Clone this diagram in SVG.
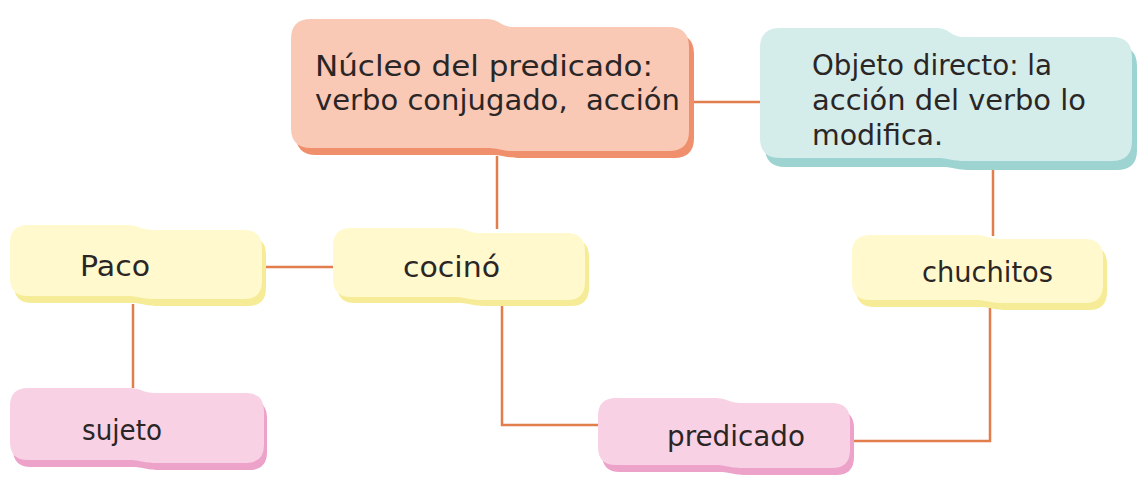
<svg xmlns="http://www.w3.org/2000/svg" width="1139" height="477" viewBox="0 0 1139 477">
<style>
  .lbl { font-family: "DejaVu Sans", "Liberation Sans", sans-serif; font-size: 29px; fill: #2b2626; }
  .conn { fill: none; stroke: #e27d4c; stroke-width: 2.5; }
  .salmon { fill: #f9c9b6; } .salmon-s { fill: #ef8f6c; }
  .teal { fill: #d4ecea; } .teal-s { fill: #9dd3d0; }
  .yellow { fill: #fff9cd; } .yellow-s { fill: #f6ec98; }
  .pink { fill: #f8d1e5; } .pink-s { fill: #eca2c9; }
</style>
<rect width="1139" height="477" fill="#ffffff"/>
<g id="connectors">
  <path class="conn" d="M694,102 H760"/>
  <path class="conn" d="M497,156 V229"/>
  <path class="conn" d="M266,267 H333"/>
  <path class="conn" d="M133,304 V388"/>
  <path class="conn" d="M502,306 V425 H598"/>
  <path class="conn" d="M854,441 H990 V308"/>
  <path class="conn" d="M993,166 V236"/>
</g>
<g id="nucleo">
  <path class="salmon-s" transform="translate(5,7)" d="M291,39 Q291,19 311,19 L486,19 C500,19 500,27 514,27 L669,27 Q689,27 689,47 L689,131 Q689,151 669,151 L514,151 C500,151 500,148 486,148 L311,148 Q291,148 291,128 Z"/>
  <path class="salmon" d="M291,39 Q291,19 311,19 L486,19 C500,19 500,27 514,27 L669,27 Q689,27 689,47 L689,131 Q689,151 669,151 L514,151 C500,151 500,148 486,148 L311,148 Q291,148 291,128 Z"/>
  <text class="lbl" x="315" y="76" textLength="338" lengthAdjust="spacingAndGlyphs">Núcleo del predicado:</text>
  <text class="lbl" x="315" y="110" textLength="365" lengthAdjust="spacingAndGlyphs" xml:space="preserve">verbo conjugado,  acción</text>
</g>
<g id="objeto">
  <path class="teal-s" transform="translate(5,9)" d="M760,48 Q760,28 780,28 L936,28 C950,28 950,37 964,37 L1112,37 Q1132,37 1132,57 L1132,141 Q1132,161 1112,161 L964,161 C950,161 950,158 936,158 L780,158 Q760,158 760,138 Z"/>
  <path class="teal" d="M760,48 Q760,28 780,28 L936,28 C950,28 950,37 964,37 L1112,37 Q1132,37 1132,57 L1132,141 Q1132,161 1112,161 L964,161 C950,161 950,158 936,158 L780,158 Q760,158 760,138 Z"/>
  <text class="lbl" x="812" y="75" textLength="240" lengthAdjust="spacingAndGlyphs">Objeto directo: la</text>
  <text class="lbl" x="812" y="110" textLength="274" lengthAdjust="spacingAndGlyphs">acción del verbo lo</text>
  <text class="lbl" x="812" y="145" textLength="131" lengthAdjust="spacingAndGlyphs">modifica.</text>
</g>
<g id="paco">
  <path class="yellow-s" transform="translate(4,7)" d="M10,243 Q10,225 28,225 L126,225 C140,225 140,230 154,230 L244,230 Q262,230 262,248 L262,281 Q262,299 244,299 L154,299 C140,299 140,296 126,296 L28,296 Q10,296 10,278 Z"/>
  <path class="yellow" d="M10,243 Q10,225 28,225 L126,225 C140,225 140,230 154,230 L244,230 Q262,230 262,248 L262,281 Q262,299 244,299 L154,299 C140,299 140,296 126,296 L28,296 Q10,296 10,278 Z"/>
  <text class="lbl" x="80" y="276" textLength="70" lengthAdjust="spacingAndGlyphs">Paco</text>
</g>
<g id="cocino">
  <path class="yellow-s" transform="translate(4,6)" d="M333,246 Q333,228 351,228 L453,228 C467,228 467,233 481,233 L567,233 Q585,233 585,251 L585,282 Q585,300 567,300 L481,300 C467,300 467,297 453,297 L351,297 Q333,297 333,279 Z"/>
  <path class="yellow" d="M333,246 Q333,228 351,228 L453,228 C467,228 467,233 481,233 L567,233 Q585,233 585,251 L585,282 Q585,300 567,300 L481,300 C467,300 467,297 453,297 L351,297 Q333,297 333,279 Z"/>
  <text class="lbl" x="403" y="277" textLength="97" lengthAdjust="spacingAndGlyphs">cocinó</text>
</g>
<g id="chuchitos">
  <path class="yellow-s" transform="translate(4,7)" d="M852,253 Q852,235 870,235 L974,235 C988,235 988,239 1002,239 L1085,239 Q1103,239 1103,257 L1103,285 Q1103,303 1085,303 L1002,303 C988,303 988,300 974,300 L870,300 Q852,300 852,282 Z"/>
  <path class="yellow" d="M852,253 Q852,235 870,235 L974,235 C988,235 988,239 1002,239 L1085,239 Q1103,239 1103,257 L1103,285 Q1103,303 1085,303 L1002,303 C988,303 988,300 974,300 L870,300 Q852,300 852,282 Z"/>
  <text class="lbl" x="922" y="282" textLength="131" lengthAdjust="spacingAndGlyphs">chuchitos</text>
</g>
<g id="sujeto">
  <path class="pink-s" transform="translate(3,7)" d="M10,406 Q10,388 28,388 L128,388 C142,388 142,393 156,393 L246,393 Q264,393 264,411 L264,445 Q264,463 246,463 L156,463 C142,463 142,460 128,460 L28,460 Q10,460 10,442 Z"/>
  <path class="pink" d="M10,406 Q10,388 28,388 L128,388 C142,388 142,393 156,393 L246,393 Q264,393 264,411 L264,445 Q264,463 246,463 L156,463 C142,463 142,460 128,460 L28,460 Q10,460 10,442 Z"/>
  <text class="lbl" x="82" y="440" textLength="80" lengthAdjust="spacingAndGlyphs">sujeto</text>
</g>
<g id="predicado">
  <path class="pink-s" transform="translate(4,7)" d="M598,416 Q598,398 616,398 L714,398 C728,398 728,403 742,403 L832,403 Q850,403 850,421 L850,450 Q850,468 832,468 L742,468 C728,468 728,465 714,465 L616,465 Q598,465 598,447 Z"/>
  <path class="pink" d="M598,416 Q598,398 616,398 L714,398 C728,398 728,403 742,403 L832,403 Q850,403 850,421 L850,450 Q850,468 832,468 L742,468 C728,468 728,465 714,465 L616,465 Q598,465 598,447 Z"/>
  <text class="lbl" x="667" y="446" textLength="138" lengthAdjust="spacingAndGlyphs">predicado</text>
</g>
</svg>
